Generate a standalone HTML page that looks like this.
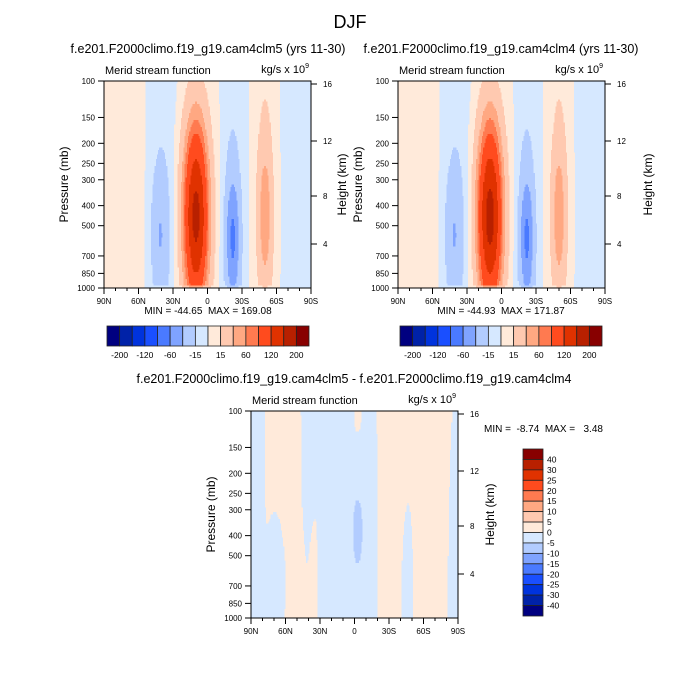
<!DOCTYPE html>
<html><head><meta charset="utf-8">
<style>
body{margin:0;background:#fff;}
svg{display:block;font-family:"Liberation Sans",sans-serif;}
</style></head>
<body>
<svg id="chart" width="700" height="700" viewBox="0 0 700 700">
<text x="350" y="28" font-size="18" text-anchor="middle">DJF</text>
</svg>
<script>
// ---- data ----
const pressureTicks = [100,150,200,250,300,400,500,700,850,1000];
const latTicks = [90,60,30,0,-30,-60,-90];
const latTickLabels = ["90N","60N","30N","0","30S","60S","90S"];
const heightTicks = [16,12,8,4];
const heightTickOffsets = [3,60,115,163];
const colors = ["#000080","#0022A8","#0033DD","#1A4FFF","#4A7AFF","#7FA3FF","#B2CCFF","#D6E8FF","#FFEADA","#FFC9B0","#FFA882","#FF7A50","#FF4B1E","#E03200","#B82000","#880000"];
const levelsFull = [-200,-160,-120,-80,-60,-40,-15,0,15,40,60,80,120,160,200];
const levelsFullLabels = ["-200","-120","-60","-15","15","60","120","200"];
const levelsDiff = [-40,-30,-25,-20,-15,-10,-5,0,5,10,15,20,25,30,40];
// cells: amplitude, latitude center, pressure center, lat width, ln-p width
const clm5Amp = [172,-55,-32,45,-8,8,-10,-10,10];
const clm5Lat = [10,-22,41,-50,-80,72,40,-22,-50];
const clm5P = [450,580,560,450,400,400,300,250,250];
const clm5WLat = [11,7,8,7,12,18,12,8,8];
const clm5WP = [1.05,0.8,0.75,0.9,3,3,3,3,3];
const clm4Amp = [175,-55,-32,45,-8,8,-10,-10,10];
const clm4Lat = [10,-22,41,-50,-80,72,40,-22,-50];
const clm4P = [450,580,560,450,400,400,300,250,250];
const clm4WLat = [11,7,8,7,12,18,12,8,8];
const clm4WP = [1.05,0.8,0.75,0.9,3,3,3,3,3];
const diffAmp = [2,2,-2.5,-2.5,1.5,-3,-7,2,2,2.5,-2,2.5,-2,-2.5];
const diffLat = [60,50,86,40,36,5,-3,-2,-2,-32,-45,-66,-88,68];
const diffP = [180,750,500,180,700,450,380,110,950,400,750,400,700,550];
const diffWLat = [12,6,5,5,4,20,4,6,5,10,5,11,5,5];
const diffWP = [0.7,0.8,3,0.8,1,2,0.35,0.4,0.25,3,0.8,3,1.2,0.5];

const svg = document.getElementById('chart');
const NS = 'http://www.w3.org/2000/svg';
function mk(tag, attrs, parent){const e=document.createElementNS(NS,tag);for(const k in attrs)e.setAttribute(k,attrs[k]);(parent||svg).appendChild(e);return e;}
function txt(x,y,s,size,anchor,parent){const t=mk('text',{x:x,y:y,'font-size':size,'text-anchor':anchor||'start'},parent);t.textContent=s;return t;}

function field(lat,p,A,L,P,WL,WP){
  let v=0;const lp=Math.log(p);
  for(let i=0;i<A.length;i++){
    const a=(lat-L[i])/WL[i], b=(lp-Math.log(P[i]))/WP[i];
    v+=A[i]*Math.exp(-a*a-b*b);
  }
  return v*Math.min(1,(1000-p)/25+0.05);
}
function colorIdx(v,levels){let i=0;while(i<levels.length&&v>levels[i])i++;return i;}

function panel(name,x0,y0,w,h,A,L,P,WL,WP,levels,title,titleX,hOff){
  const g=mk('g',{});
  
  
  const xs=lat=>x0+(90-lat)/180*w;
  const ys=p=>y0+(Math.log(p)-Math.log(100))/Math.log(10)*h;
  const rows=90, cols=180;
  const cg=mk('g',{'shape-rendering':'crispEdges'},g);
  
  
  for(let r=0;r<rows;r++){
    const pa=100*Math.pow(10,r/rows), pb=100*Math.pow(10,(r+1)/rows);
    const pm=Math.sqrt(pa*pb);
    let start=0, cur=colorIdx(field(90-0.5,pm,A,L,P,WL,WP),levels);
    for(let c=1;c<=cols;c++){
      const ci = c<cols?colorIdx(field(90-c-0.5,pm,A,L,P,WL,WP),levels):-1;
      if(ci!==cur){
        const xa=xs(90-start), xb=xs(90-c);
        mk('rect',{x:xa,y:ys(pa),width:xb-xa+0.3,height:ys(pb)-ys(pa)+0.3,fill:colors[cur]},cg);
        start=c;cur=ci;
      }
    }
  }
  const fr=mk('rect',{x:x0,y:y0,width:w,height:h,fill:'none',stroke:'#000','stroke-width':1},g);
  
  
  pressureTicks.forEach(p=>{const y=ys(p);mk('line',{x1:x0-6,x2:x0,y1:y,y2:y,stroke:'#000'},g);
    const t=txt(x0-9,y+3,String(p),8,'end',g);});
  latTicks.forEach((l,i)=>{const x=xs(l);mk('line',{x1:x,x2:x,y1:y0+h,y2:y0+h+6,stroke:'#000'},g);
    const t=txt(x,y0+h+16,latTickLabels[i],8,'middle',g);});
  for(let l=-80;l<=80;l+=10){if(l%30){const x=xs(l);mk('line',{x1:x,x2:x,y1:y0+h,y2:y0+h+3,stroke:'#000'},g);}}
  heightTicks.forEach((z,i)=>{const y=y0+heightTickOffsets[i];mk('line',{x1:x0+w,x2:x0+w+6,y1:y,y2:y,stroke:'#000'},g);
    const t=txt(x0+w+12,y+3,String(z),8,'start',g);});
  const yl=txt(0,0,'Pressure (mb)',12,'middle',g);yl.setAttribute('transform',`translate(${x0-36},${y0+h/2}) rotate(-90)`);
  
  const hl=txt(0,0,'Height (km)',12,'middle',g);hl.setAttribute('transform',`translate(${x0+w+hOff},${y0+h/2}) rotate(-90)`);
  
  const st=txt(x0+1,y0-7,'Merid stream function',11,'start',g);
  
  const un=mk('text',{x:x0+w-2,y:y0-8,'font-size':11,'text-anchor':'end'},g);
  un.innerHTML='kg/s x 10<tspan font-size="7" dy="-5">9</tspan>';
  
  const tt=txt(titleX,y0-28,title,12.5,'middle',g);
  
}

panel('panel-clm5',104,81,207,207,clm5Amp,clm5Lat,clm5P,clm5WLat,clm5WP,levelsFull,'f.e201.F2000climo.f19_g19.cam4clm5 (yrs 11-30)',208,35);
panel('panel-clm4',398,81,207,207,clm4Amp,clm4Lat,clm4P,clm4WLat,clm4WP,levelsFull,'f.e201.F2000climo.f19_g19.cam4clm4 (yrs 11-30)',501,47);
panel('panel-diff',251,411,207,207,diffAmp,diffLat,diffP,diffWLat,diffWP,levelsDiff,'f.e201.F2000climo.f19_g19.cam4clm5 - f.e201.F2000climo.f19_g19.cam4clm4',354,36);

[[208,'MIN = -44.65  MAX = 169.08','minmax-clm5'],[501,'MIN = -44.93  MAX = 171.87','minmax-clm4']].forEach(d=>{
  const t=txt(d[0],314,d[1],10,'middle');t.style.whiteSpace='pre';});
const md=txt(484,432,'MIN =  -8.74  MAX =   3.48',10,'start');
md.style.whiteSpace='pre';


function hbar(name,x0){
  const g=mk('g',{});
  const bw=202/16;
  colors.forEach((c,i)=>{const r=mk('rect',{x:x0+i*bw,y:326,width:bw,height:20,fill:c,stroke:'#222','stroke-width':0.8},g);
    });
  levelsFullLabels.forEach((s,j)=>{const t=txt(x0+(2*j+1)*bw,358,s,8.5,'middle',g);});
}
hbar('colorbar-clm5',107);
hbar('colorbar-clm4',400);
(function(){
  const g=mk('g',{});
  const y0=449,bh=(616-449)/16;
  for(let i=0;i<16;i++){const r=mk('rect',{x:523,y:y0+i*bh,width:20,height:bh,fill:colors[15-i],stroke:'#222','stroke-width':0.8},g);
    }
  for(let k=0;k<15;k++){const t=txt(547,y0+(k+1)*bh+3,String(levelsDiff[14-k]),8.5,'start',g);}
})();
</script>
</body></html>
